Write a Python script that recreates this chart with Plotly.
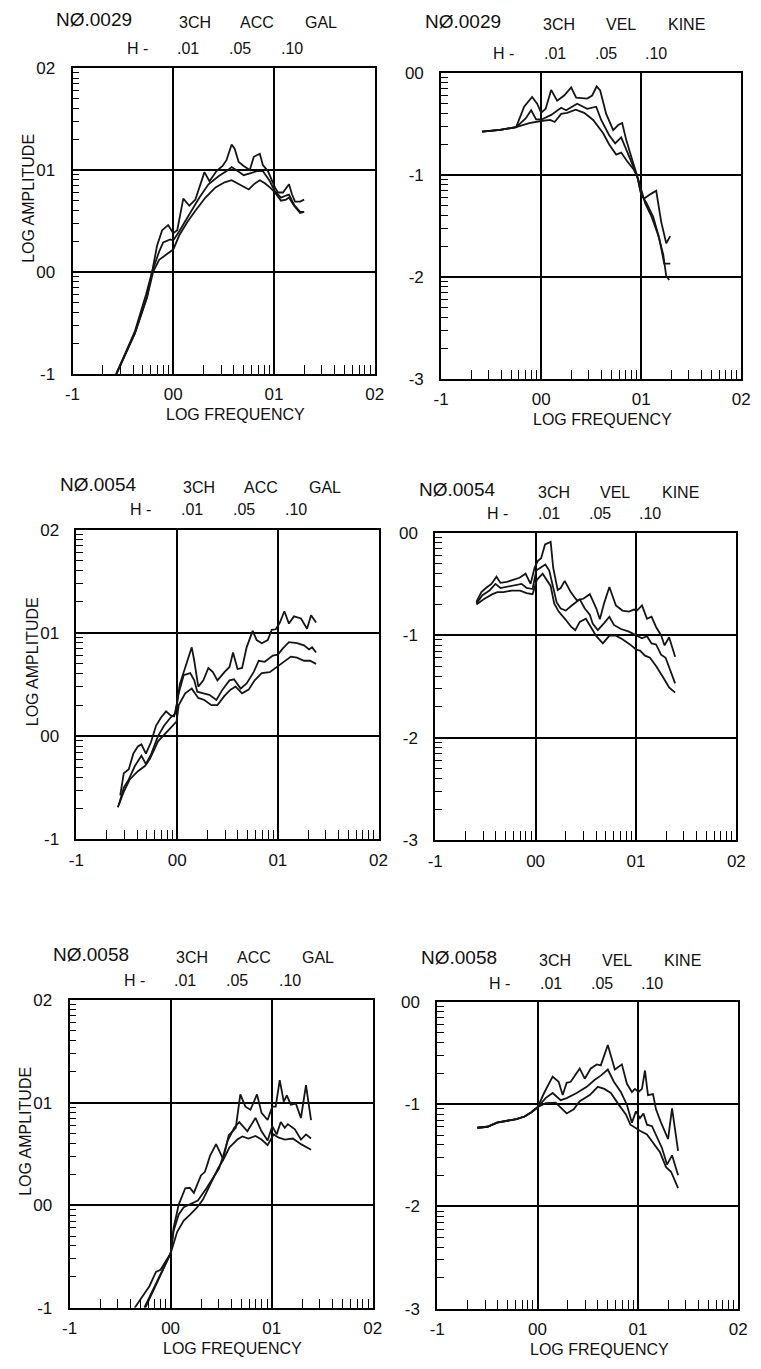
import math
import plotly.graph_objects as go

# ---------------- data (log10 frequency, log10 amplitude) ----------------
# Panel 1: NO.0029 3CH ACC GAL
p1_x_h01 = [-0.60,-0.38,-0.27,-0.21,-0.16,-0.11,-0.05,0.00,0.04,0.10,0.16,0.22,0.31,0.36,0.43,0.49,0.53,0.58,0.61,0.65,0.70,0.76,0.80,0.86,0.89,0.94,1.01,1.04,1.09,1.13,1.15,1.18,1.21,1.26,1.30]
p1_y_h01 = [-1.08,-0.58,-0.22,0.00,0.26,0.41,0.46,0.38,0.41,0.72,0.65,0.71,0.98,0.89,0.99,1.04,1.10,1.25,1.21,1.08,1.04,1.00,1.13,1.16,1.05,0.99,0.83,0.78,0.78,0.83,0.86,0.76,0.69,0.69,0.71]
p1_x_h05 = [-0.59,-0.38,-0.26,-0.21,-0.14,-0.10,-0.03,0.00,0.06,0.13,0.19,0.26,0.35,0.45,0.53,0.58,0.64,0.70,0.77,0.83,0.89,0.96,1.01,1.07,1.12,1.15,1.20,1.26,1.30]
p1_y_h05 = [-1.05,-0.60,-0.24,0.00,0.20,0.29,0.32,0.31,0.40,0.52,0.62,0.73,0.86,0.94,0.99,1.03,0.99,0.95,0.97,0.99,0.99,0.89,0.79,0.73,0.75,0.76,0.66,0.59,0.59]
p1_x_h10 = [-0.58,-0.38,-0.26,-0.20,-0.14,-0.08,0.00,0.06,0.14,0.22,0.32,0.42,0.51,0.58,0.64,0.70,0.75,0.80,0.86,0.91,0.96,1.01,1.07,1.12,1.15,1.20,1.26,1.30]
p1_y_h10 = [-1.04,-0.60,-0.25,0.00,0.12,0.16,0.22,0.36,0.49,0.60,0.73,0.83,0.88,0.90,0.87,0.84,0.81,0.86,0.90,0.87,0.83,0.78,0.70,0.71,0.73,0.65,0.58,0.59]

# Panel 2: NO.0029 3CH VEL KINE
p2_x_h01 = [-0.59,-0.41,-0.25,-0.17,-0.09,-0.04,0.00,0.045,0.10,0.16,0.23,0.30,0.35,0.46,0.51,0.555,0.59,0.65,0.72,0.77,0.81,0.85,0.91,0.96,1.00,1.03,1.09,1.15,1.20,1.25,1.29]
p2_y_h01 = [-0.574,-0.558,-0.53,-0.33,-0.235,-0.30,-0.39,-0.35,-0.165,-0.27,-0.22,-0.14,-0.24,-0.25,-0.22,-0.13,-0.17,-0.40,-0.56,-0.51,-0.49,-0.655,-0.85,-1.01,-1.19,-1.23,-1.19,-1.155,-1.46,-1.67,-1.60]
p2_x_h05 = [-0.59,-0.41,-0.25,-0.155,-0.10,-0.05,0.006,0.10,0.20,0.25,0.36,0.46,0.55,0.60,0.68,0.74,0.80,0.845,0.91,0.96,1.00,1.05,1.12,1.18,1.23,1.29]
p2_y_h05 = [-0.574,-0.558,-0.53,-0.445,-0.365,-0.455,-0.455,-0.41,-0.34,-0.365,-0.30,-0.35,-0.33,-0.46,-0.61,-0.69,-0.63,-0.735,-0.89,-1.01,-1.19,-1.27,-1.41,-1.62,-1.87,-1.87]
p2_x_h10 = [-0.59,-0.41,-0.25,-0.12,0.00,0.09,0.135,0.20,0.26,0.345,0.43,0.52,0.62,0.68,0.75,0.80,0.86,0.925,0.97,1.00,1.04,1.10,1.17,1.22,1.25,1.28]
p2_y_h10 = [-0.574,-0.558,-0.53,-0.49,-0.47,-0.46,-0.48,-0.40,-0.39,-0.36,-0.39,-0.46,-0.59,-0.70,-0.80,-0.78,-0.865,-0.945,-1.04,-1.14,-1.28,-1.40,-1.59,-1.78,-1.99,-2.03]

# Panel 3: NO.0054 3CH ACC GAL
p3_x_h01 = [-0.565,-0.53,-0.48,-0.435,-0.39,-0.355,-0.31,-0.26,-0.21,-0.16,-0.11,-0.065,-0.03,0.00,0.026,0.08,0.145,0.17,0.21,0.26,0.31,0.355,0.40,0.47,0.52,0.555,0.60,0.645,0.69,0.75,0.79,0.84,0.90,0.94,0.98,1.02,1.065,1.11,1.16,1.23,1.29,1.33,1.38]
p3_y_h01 = [-0.575,-0.36,-0.32,-0.17,-0.10,-0.08,-0.17,-0.06,0.10,0.18,0.24,0.20,0.19,0.32,0.50,0.67,0.86,0.73,0.48,0.54,0.66,0.62,0.54,0.62,0.67,0.81,0.65,0.66,0.86,1.02,0.93,0.90,0.93,1.03,1.035,1.10,1.21,1.09,1.16,1.14,1.04,1.17,1.10]
p3_x_h05 = [-0.58,-0.53,-0.48,-0.42,-0.355,-0.31,-0.26,-0.19,-0.13,-0.065,-0.016,0.006,0.065,0.13,0.17,0.20,0.26,0.32,0.39,0.45,0.52,0.565,0.63,0.69,0.76,0.81,0.87,0.95,1.00,1.05,1.11,1.19,1.26,1.31,1.34,1.38]
p3_y_h05 = [-0.67,-0.50,-0.42,-0.29,-0.19,-0.27,-0.18,0.00,0.10,0.18,0.22,0.38,0.59,0.61,0.54,0.43,0.415,0.40,0.35,0.45,0.54,0.55,0.46,0.51,0.62,0.73,0.72,0.78,0.79,0.85,0.91,0.90,0.88,0.84,0.86,0.81]
p3_x_h10 = [-0.59,-0.53,-0.47,-0.39,-0.32,-0.27,-0.19,-0.11,-0.05,-0.006,0.016,0.08,0.145,0.21,0.27,0.34,0.40,0.47,0.53,0.58,0.645,0.71,0.77,0.84,0.92,1.00,1.065,1.13,1.19,1.26,1.32,1.38]
p3_y_h10 = [-0.69,-0.54,-0.42,-0.34,-0.29,-0.22,-0.05,0.03,0.10,0.14,0.30,0.415,0.46,0.37,0.35,0.30,0.30,0.39,0.45,0.48,0.415,0.45,0.54,0.61,0.62,0.68,0.73,0.77,0.76,0.73,0.73,0.70]

# Panel 4: NO.0054 3CH VEL KINE
p4_x_h01 = [-0.59,-0.54,-0.495,-0.44,-0.39,-0.35,-0.285,-0.22,-0.16,-0.10,-0.05,-0.01,0.023,0.055,0.094,0.15,0.175,0.22,0.25,0.29,0.35,0.41,0.475,0.54,0.605,0.64,0.685,0.735,0.80,0.865,0.93,0.98,1.01,1.06,1.11,1.155,1.20,1.25,1.285,1.33,1.39]
p4_y_h01 = [-0.676,-0.58,-0.54,-0.50,-0.43,-0.49,-0.48,-0.46,-0.44,-0.40,-0.50,-0.34,-0.275,-0.25,-0.115,-0.09,-0.34,-0.56,-0.54,-0.47,-0.58,-0.66,-0.645,-0.60,-0.74,-0.845,-0.68,-0.53,-0.71,-0.76,-0.77,-0.75,-0.76,-0.71,-0.84,-0.82,-0.92,-1.00,-1.10,-1.02,-1.21]
p4_x_h05 = [-0.59,-0.53,-0.46,-0.40,-0.35,-0.27,-0.19,-0.14,-0.09,-0.03,0.006,0.055,0.097,0.136,0.175,0.21,0.25,0.30,0.36,0.44,0.49,0.54,0.57,0.62,0.68,0.735,0.78,0.85,0.93,1.01,1.06,1.11,1.155,1.20,1.25,1.295,1.34,1.39]
p4_y_h05 = [-0.69,-0.61,-0.565,-0.50,-0.54,-0.525,-0.515,-0.50,-0.54,-0.55,-0.37,-0.34,-0.31,-0.37,-0.53,-0.68,-0.74,-0.76,-0.71,-0.65,-0.74,-0.80,-0.89,-0.95,-0.885,-0.82,-0.90,-0.94,-0.965,-1.005,-1.03,-1.01,-1.08,-1.09,-1.19,-1.22,-1.33,-1.47]
p4_x_h10 = [-0.59,-0.51,-0.43,-0.38,-0.32,-0.24,-0.155,-0.09,-0.03,0.013,0.07,0.12,0.15,0.185,0.23,0.30,0.355,0.395,0.44,0.50,0.55,0.605,0.67,0.735,0.80,0.865,0.94,1.00,1.04,1.09,1.14,1.20,1.27,1.33,1.39]
p4_y_h10 = [-0.70,-0.645,-0.60,-0.58,-0.58,-0.565,-0.565,-0.59,-0.60,-0.46,-0.40,-0.47,-0.52,-0.69,-0.77,-0.85,-0.92,-0.95,-0.87,-0.84,-0.92,-1.01,-1.08,-1.005,-1.005,-1.04,-1.09,-1.14,-1.15,-1.20,-1.22,-1.30,-1.41,-1.51,-1.56]

# Panel 5: NO.0058 3CH ACC GAL
p5_x_h01 = [-0.355,-0.21,-0.145,-0.10,-0.05,0.00,0.03,0.08,0.145,0.19,0.23,0.30,0.34,0.39,0.45,0.48,0.52,0.575,0.645,0.69,0.74,0.79,0.855,0.90,0.96,1.006,1.04,1.08,1.12,1.15,1.19,1.24,1.29,1.34,1.39]
p5_y_h01 = [-1.0,-0.79,-0.65,-0.63,-0.55,-0.47,-0.22,0.006,0.165,0.17,0.12,0.29,0.325,0.48,0.595,0.53,0.45,0.68,0.755,1.08,0.96,0.93,1.08,0.90,0.83,0.96,0.96,1.22,1.01,1.07,0.98,0.99,0.85,1.17,0.83]
p5_x_h05 = [-0.26,-0.13,0.00,0.03,0.08,0.13,0.19,0.27,0.355,0.42,0.48,0.52,0.565,0.63,0.68,0.76,0.84,0.90,0.96,1.006,1.05,1.09,1.13,1.16,1.23,1.29,1.34,1.39]
p5_y_h05 = [-1.0,-0.74,-0.47,-0.25,-0.09,-0.02,0.006,0.045,0.165,0.26,0.36,0.48,0.63,0.755,0.81,0.72,0.85,0.72,0.63,0.77,0.69,0.81,0.755,0.79,0.74,0.64,0.69,0.65]
p5_x_h10 = [-0.25,-0.12,0.00,0.065,0.13,0.19,0.26,0.32,0.39,0.47,0.52,0.58,0.66,0.71,0.77,0.84,0.90,0.96,1.02,1.065,1.13,1.21,1.29,1.39]
p5_y_h10 = [-1.0,-0.72,-0.47,-0.26,-0.15,-0.095,-0.025,0.055,0.20,0.36,0.44,0.56,0.64,0.67,0.65,0.675,0.64,0.585,0.69,0.66,0.64,0.65,0.595,0.54]

# Panel 6: NO.0058 3CH VEL KINE (shared low-frequency part + three branches)
p6_x_common = [-0.60,-0.50,-0.405,-0.31,-0.21,-0.13,-0.065,0.00]
p6_y_common = [-1.23,-1.22,-1.18,-1.16,-1.145,-1.12,-1.08,-1.03]
p6_x_h01 = [0.065,0.15,0.21,0.25,0.29,0.33,0.42,0.47,0.53,0.59,0.63,0.70,0.77,0.84,0.89,0.94,0.97,1.006,1.04,1.07,1.10,1.15,1.18,1.23,1.30,1.34,1.40]
p6_y_h01 = [-0.89,-0.73,-0.78,-0.91,-0.79,-0.78,-0.65,-0.75,-0.65,-0.61,-0.62,-0.42,-0.66,-0.61,-0.80,-0.88,-0.85,-0.88,-0.85,-0.67,-0.91,-0.90,-1.05,-1.18,-1.34,-1.04,-1.455]
p6_x_h05 = [0.08,0.15,0.23,0.29,0.39,0.49,0.57,0.63,0.70,0.76,0.83,0.89,0.94,0.98,1.02,1.055,1.09,1.14,1.185,1.24,1.29,1.34,1.40]
p6_y_h05 = [-0.94,-0.89,-0.96,-0.94,-0.89,-0.83,-0.76,-0.72,-0.66,-0.78,-0.88,-1.006,-1.18,-1.07,-1.135,-1.09,-1.20,-1.215,-1.31,-1.43,-1.59,-1.50,-1.695]
p6_x_h10 = [0.08,0.18,0.24,0.29,0.36,0.42,0.52,0.60,0.665,0.73,0.81,0.88,0.925,0.97,1.02,1.09,1.15,1.22,1.28,1.33,1.40]
p6_y_h10 = [-0.99,-0.985,-1.04,-1.09,-1.05,-0.97,-0.91,-0.83,-0.85,-0.89,-1.006,-1.10,-1.20,-1.23,-1.26,-1.295,-1.375,-1.47,-1.615,-1.66,-1.82]

# tick labels
x_tickvals = [-1, 0, 1, 2]
x_ticktext = ["-1", "00", "01", "02"]
acc_tickvals = [-1, 0, 1, 2]
acc_ticktext = ["-1", "00", "01", "02"]
vel_tickvals = [-3, -2, -1, 0]
vel_ticktext = ["-3", "-2", "-1", "00"]

record_ids = ["NØ.0029", "NØ.0029", "NØ.0054", "NØ.0054", "NØ.0058", "NØ.0058"]
channel = "3CH"
quantities = ["ACC", "VEL", "ACC", "VEL", "ACC", "VEL"]
units = ["GAL", "KINE", "GAL", "KINE", "GAL", "KINE"]
damping_labels = ["H -", ".01", ".05", ".10"]

# ---------------- layout geometry (pixels) ----------------
W, H = 761, 1369
FONT = "Liberation Sans, Arial, sans-serif"
boxes = [
    (66, 60, 375, 370),
    (443, 65, 750, 375),
    (70, 528, 379, 842),
    (437, 531, 745, 843),
    (63, 1005, 373, 1317),
    (439, 1007, 747, 1318),
]
# header line centres (id line, damping line), pixels from top
header_y = [(14, 43), (16, 48), (485, 511), (490, 515), (962, 988), (965, 991)]

series = [
    [(p1_x_h01, p1_y_h01), (p1_x_h05, p1_y_h05), (p1_x_h10, p1_y_h10)],
    [(p2_x_h01, p2_y_h01), (p2_x_h05, p2_y_h05), (p2_x_h10, p2_y_h10)],
    [(p3_x_h01, p3_y_h01), (p3_x_h05, p3_y_h05), (p3_x_h10, p3_y_h10)],
    [(p4_x_h01, p4_y_h01), (p4_x_h05, p4_y_h05), (p4_x_h10, p4_y_h10)],
    [(p5_x_h01, p5_y_h01), (p5_x_h05, p5_y_h05), (p5_x_h10, p5_y_h10)],
    [(p6_x_common + p6_x_h01, p6_y_common + p6_y_h01),
     (p6_x_common + p6_x_h05, p6_y_common + p6_y_h05),
     (p6_x_common + p6_x_h10, p6_y_common + p6_y_h10)],
]


def log_minor(lo, hi):
    return [d + math.log10(k) for d in range(lo, hi) for k in range(2, 10)]


fig = go.Figure()
annotations = []

def px_x(v):
    return v / W

def px_y(v):
    return 1 - v / H

def ann(x, y, text, size, **kw):
    d = dict(x=px_x(x), y=px_y(y - 3), xref="paper", yref="paper", text=text,
             showarrow=False, xanchor="center", yanchor="middle",
             font=dict(family=FONT, size=size, color="#111"))
    d.update(kw)
    return d

for i, (l, t, r, b) in enumerate(boxes):
    n = i + 1
    is_acc = (i % 2 == 0)
    xa = "x" if n == 1 else f"x{n}"
    ya = "y" if n == 1 else f"y{n}"
    for (xs, ys) in series[i]:
        fig.add_trace(go.Scatter(x=xs, y=ys, mode="lines", xaxis=xa, yaxis=ya,
                                 line=dict(color="#151515", width=1.8),
                                 showlegend=False, hoverinfo="skip"))
    yr = [-1, 2] if is_acc else [-3, 0]
    common = dict(showline=True, linecolor="black", linewidth=1.8, mirror=True,
                  showgrid=True, gridcolor="black", gridwidth=1.5,
                  zeroline=False, ticks="", tickmode="array",
                  tickfont=dict(family=FONT, size=17, color="#111"))
    fig.update_layout(**{
        ("xaxis" if n == 1 else f"xaxis{n}"): dict(
            common, domain=[px_x(l), px_x(r)], range=[-1, 2], anchor=ya,
            tickvals=x_tickvals, ticktext=x_ticktext, ticklabelstandoff=4,
            minor=dict(tickmode="array", tickvals=log_minor(-1, 2), ticks="inside",
                       ticklen=9, tickwidth=1.4, tickcolor="black", showgrid=False)),
        ("yaxis" if n == 1 else f"yaxis{n}"): dict(
            common, domain=[px_y(b), px_y(t)], range=yr, anchor=xa,
            tickvals=acc_tickvals if is_acc else vel_tickvals,
            ticktext=acc_ticktext if is_acc else vel_ticktext, ticklabelstandoff=12,
            minor=dict(tickmode="array", tickvals=log_minor(yr[0], yr[1]), ticks="inside",
                       ticklen=7, tickwidth=1.4, tickcolor="black", showgrid=False)),
    })

    # header lines
    if is_acc:
        c_id, c_ch, c_q, c_u = l + 22, l + 125, l + 189, l + 254
        h_pos = [l + 66, l + 118, l + 171, l + 225]
    else:
        c_id, c_ch, c_q, c_u = l + 22, l + 121, l + 184, l + 251
        h_pos = [l + 64, l + 116, l + 169, l + 220]
    y1, y2 = header_y[i]
    annotations.append(ann(c_id, y1, record_ids[i], 19))
    for cx, txt in zip([c_ch, c_q, c_u], [channel, quantities[i], units[i]]):
        annotations.append(ann(cx, y1 + 3, txt, 16))
    for cx, txt in zip(h_pos, damping_labels):
        annotations.append(ann(cx, y2, txt, 16))
    # axis titles
    if is_acc:
        annotations.append(ann(l - 45, (t + b) / 2 - 20, "LOG AMPLITUDE", 16, textangle=-90))
    if i in (0, 1, 4, 5):
        annotations.append(ann((l + r) / 2 + 12, b + 44, "LOG FREQUENCY", 16))

fig.update_layout(width=W, height=H, margin=dict(l=0, r=0, t=0, b=0),
                  paper_bgcolor="white", plot_bgcolor="white",
                  annotations=annotations, showlegend=False)

fig.write_html("out.html")
